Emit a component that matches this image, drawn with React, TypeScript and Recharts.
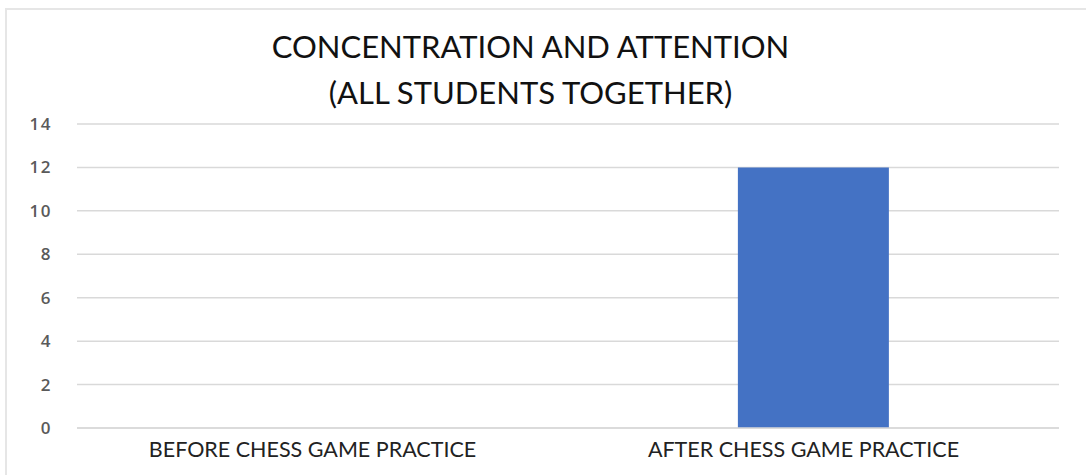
import React from "react";
import { BarChart, Bar, XAxis, YAxis, CartesianGrid } from "recharts";

const categories = ["BEFORE CHESS GAME PRACTICE", "AFTER CHESS GAME PRACTICE"];
const scores = [0, 12];
const yTicks = [0, 2, 4, 6, 8, 10, 12, 14];
const titleLines = ["CONCENTRATION AND ATTENTION", "(ALL STUDENTS TOGETHER)"];

const data = categories.map((name, i) => ({ name, value: scores[i] }));

const W = 1086;
const H = 475;

export default function App() {
  return (
    <div
      style={{
        position: "absolute",
        left: 0,
        top: 0,
        width: W,
        height: H,
        background: "#fff",
        overflow: "hidden",
      }}
    >
      {/* frame edges */}
      <div
        style={{
          position: "absolute",
          left: 5,
          top: 8,
          width: W,
          height: H,
          borderTop: "2px solid #e6e6e6",
          borderLeft: "2px solid #e6e6e6",
        }}
      />
      <div
        style={{
          position: "absolute",
          left: 0,
          top: 23,
          width: 1061,
          textAlign: "center",
          fontFamily: "Lato, sans-serif",
          fontSize: 31,
          lineHeight: "46px",
          color: "#111",
        }}
      >
        {titleLines.map((t) => (
          <div key={t}>{t}</div>
        ))}
      </div>
      <div style={{ position: "absolute", left: 0, top: 0 }}>
        <BarChart
          width={W}
          height={H}
          data={data}
          margin={{ top: 124, right: 27, bottom: 0, left: 0 }}
          barCategoryGap="34.6%"
        >
          <CartesianGrid vertical={false} stroke="#d9d9d9" strokeWidth={1.5} />
          <XAxis
            dataKey="name"
            height={47}
            axisLine={{ stroke: "#d9d9d9", strokeWidth: 1.5 }}
            tickLine={false}
            tickMargin={8}
            tick={{ fill: "#222", fontSize: 21.5, fontFamily: "Lato, sans-serif", dx: -10 }}
          />
          <YAxis
            width={77}
            domain={[0, 14]}
            ticks={yTicks}
            interval={0}
            axisLine={false}
            tickLine={false}
            tickMargin={19}
            tick={{
              fill: "#5a5a5a",
              fontSize: 17,
              fontWeight: 600,
              letterSpacing: 1.5,
              fontFamily: "Open Sans, sans-serif",
            }}
          />
          <Bar dataKey="value" fill="#4472c4" isAnimationActive={false} />
        </BarChart>
      </div>
    </div>
  );
}
